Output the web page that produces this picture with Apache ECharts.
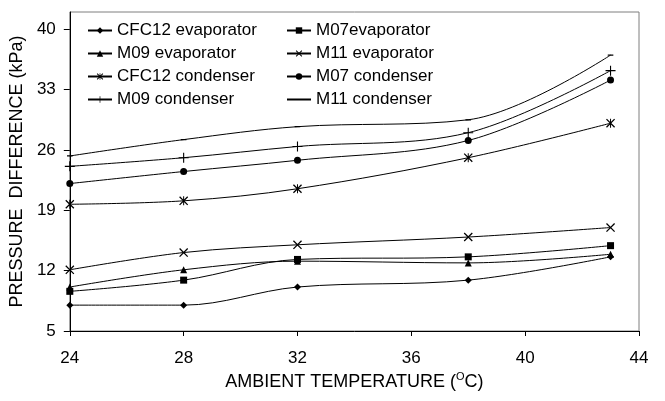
<!DOCTYPE html>
<html>
<head>
<meta charset="utf-8">
<script src="https://cdn.jsdelivr.net/npm/echarts@6/dist/echarts.min.js"></script>
<style>
  html, body { margin: 0; padding: 0; background: #fff; }
  #chart { width: 665px; height: 401px; }
</style>
</head>
<body>
<div id="chart"></div>
<script>
// Ambient temperature (°C) at which each pressure drop was measured
const temperatures = [24, 28, 32, 38, 43];

// Pressure difference (kPa) per refrigerant and heat exchanger
const cfc12Evaporator = [8.0, 8.0, 10.1, 10.9, 13.6];
const m07Evaporator   = [9.6, 10.9, 13.3, 13.6, 14.9];
const m09Evaporator   = [10.1, 12.1, 13.1, 12.9, 13.9];
const m11Evaporator   = [12.1, 14.1, 15.0, 15.9, 17.0];
const cfc12Condenser  = [19.7, 20.1, 21.5, 25.1, 29.1];
const m07Condenser    = [22.1, 23.5, 24.8, 27.1, 34.1];
const m09Condenser    = [24.1, 25.1, 26.4, 28.0, 35.2];
const m11Condenser    = [25.3, 27.2, 28.7, 29.5, 37.0];

// Tick values of the pressure axis
const pressureTicks = [5, 12, 19, 26, 33, 40];

const seriesNames = [
  'CFC12 evaporator', 'M07evaporator',
  'M09 evaporator', 'M11 evaporator',
  'CFC12 condenser', 'M07 condenser',
  'M09 condenser', 'M11 condenser'
];

// Outline-style markers built as thin filled shapes
const CROSS = 'path://M0,1 L1,0 L10,9 L9,10 Z M9,0 L10,1 L1,10 L0,9 Z';
const STAR = 'path://M0,1 L1,0 L10,9 L9,10 Z M9,0 L10,1 L1,10 L0,9 Z M4.45,0 L5.55,0 L5.55,10 L4.45,10 Z';
const PLUS = 'path://M4.45,0 L5.55,0 L5.55,10 L4.45,10 Z M0,4.45 L10,4.45 L10,5.55 L0,5.55 Z';
const DASH = 'path://M0,0 L0.01,0 L0,0.01 Z M10,10 L9.99,10 L10,9.99 Z M1.5,4.2 L8.5,4.2 L8.5,5.8 L1.5,5.8 Z';

const FONT = '"Liberation Sans", Arial, sans-serif';

function pairs(values) {
  return temperatures.map((t, i) => [t, values[i]]);
}

function lineSeries(name, values, symbol, size) {
  return {
    name: name,
    type: 'line',
    data: pairs(values),
    smooth: 0.35,
    symbol: symbol,
    symbolSize: size,
    showAllSymbol: true,
    lineStyle: { color: '#000', width: 1 },
    itemStyle: { color: '#000' },
    emphasis: { disabled: true },
    z: 2
  };
}

const chart = echarts.init(document.getElementById('chart'), null, { renderer: 'canvas' });

const legendCommon = {
  orient: 'vertical',
  top: 22,
  padding: 0,
  itemWidth: 24,
  itemHeight: 8,
  itemGap: 6,
  selectedMode: false,
  textStyle: { fontFamily: FONT, fontSize: 17, color: '#000' }
};

chart.setOption({
  animation: false,
  backgroundColor: '#fff',
  grid: {
    left: 68, right: 26, top: 12, bottom: 70,
    show: true, borderColor: '#7f7f7f', borderWidth: 1, backgroundColor: 'transparent'
  },
  legend: [
    Object.assign({}, legendCommon, {
      left: 87,
      data: [seriesNames[0], seriesNames[2], seriesNames[4], seriesNames[6]]
    }),
    Object.assign({}, legendCommon, {
      left: 286,
      data: [seriesNames[1], seriesNames[3], seriesNames[5], seriesNames[7]]
    })
  ],
  xAxis: {
    type: 'value',
    min: 24, max: 44, interval: 4,
    name: 'AMBIENT TEMPERATURE ({sup|O}C)',
    nameLocation: 'middle',
    nameGap: 40,
    nameTextStyle: {
      fontFamily: FONT, fontSize: 18, color: '#000',
      rich: { sup: { fontFamily: FONT, fontSize: 11, color: '#000', verticalAlign: 'top', padding: [0, 0, 9, 0] } }
    },
    axisLine: { show: true, lineStyle: { color: '#000', width: 1 } },
    axisTick: { show: true, inside: false, length: 5, lineStyle: { color: '#000' } },
    axisLabel: { fontFamily: FONT, fontSize: 17, color: '#000', margin: 19 },
    splitLine: { show: false }
  },
  yAxis: {
    type: 'value',
    min: 5, max: 42,
    name: 'PRESSURE  DIFFERENCE (kPa)',
    nameLocation: 'middle',
    nameRotate: 90,
    nameGap: 42,
    nameTextStyle: { fontFamily: FONT, fontSize: 18, color: '#000' },
    axisLine: { show: true, lineStyle: { color: '#000', width: 1 } },
    axisTick: { show: true, inside: false, length: 6, lineStyle: { color: '#000' }, customValues: pressureTicks },
    axisLabel: { fontFamily: FONT, fontSize: 17, color: '#000', margin: 14, customValues: pressureTicks },
    splitLine: { show: false }
  },
  series: [
    lineSeries(seriesNames[0], cfc12Evaporator, 'diamond', 7),
    lineSeries(seriesNames[1], m07Evaporator, 'rect', 7),
    lineSeries(seriesNames[2], m09Evaporator, 'triangle', 7),
    lineSeries(seriesNames[3], m11Evaporator, CROSS, 9),
    lineSeries(seriesNames[4], cfc12Condenser, STAR, 9),
    lineSeries(seriesNames[5], m07Condenser, 'circle', 7),
    lineSeries(seriesNames[6], m09Condenser, PLUS, 10),
    lineSeries(seriesNames[7], m11Condenser, DASH, 8)
  ]
});
</script>
</body>
</html>
